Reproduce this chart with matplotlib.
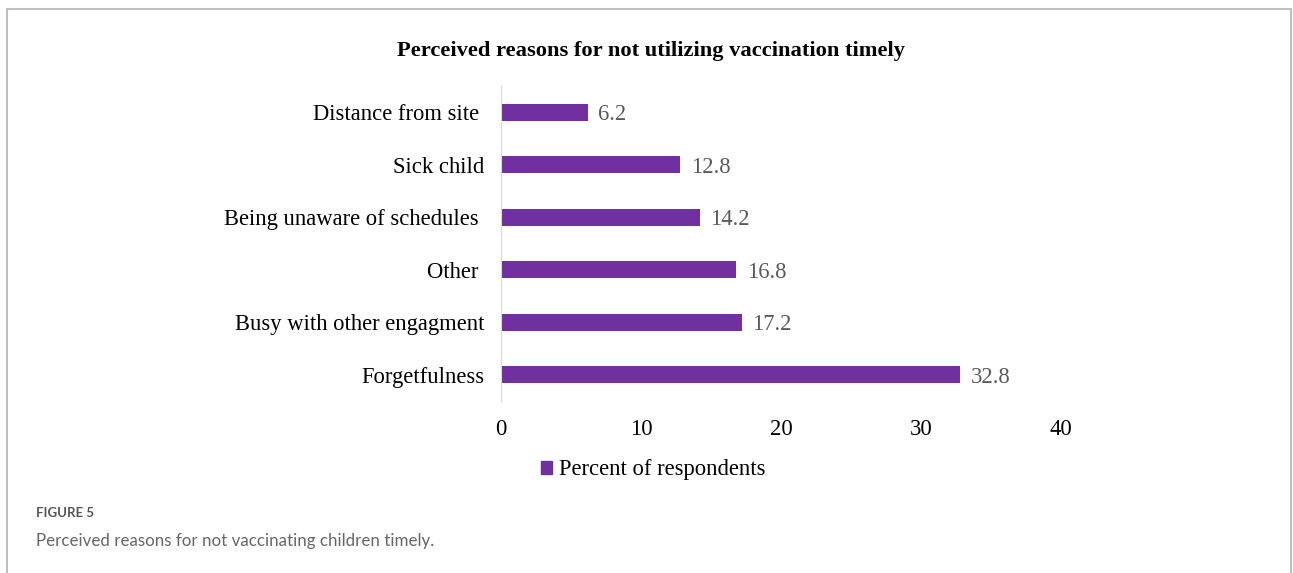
import matplotlib.pyplot as plt
import matplotlib.patches as mpatches

# data
reasons = ["Distance from site ", "Sick child", "Being unaware of schedules ",
           "Other ", "Busy with other engagment", "Forgetfulness"]
percent = [6.2, 12.8, 14.2, 16.8, 17.2, 32.8]
xticks = [0, 10, 20, 30, 40]

bar_col = "#7030A0"
serif = ["Liberation Serif", "DejaVu Serif"]

W, H = 1293, 573
fig = plt.figure(figsize=(W / 100, H / 100), dpi=100)
ax = fig.add_axes([501 / W, 1 - 401 / H, 560 / W, 315 / H])

ypos = list(range(len(reasons)))
ax.barh(ypos, percent, height=0.32, color=bar_col)
ax.set_ylim(len(reasons) - 0.5, -0.5)
ax.set_xlim(0, 40)
ax.set_yticks(ypos)
ax.set_yticklabels(reasons, family=serif, fontsize=16.3)
ax.set_xticks(xticks)
ax.set_xticklabels([str(t) for t in xticks], family=serif, fontsize=16.3)
ax.tick_params(axis="y", length=0, pad=12)
ax.tick_params(axis="x", length=0, pad=13)
for s in ["top", "right", "bottom"]:
    ax.spines[s].set_visible(False)
ax.spines["left"].set_color("#d9d9d9")

for y, v in zip(ypos, percent):
    ax.text(v + 0.75, y, str(v), va="center_baseline", ha="left", family=serif,
            fontsize=16.3, color="#595959")

fig.text(651 / W, 1 - 51 / H, "Perceived reasons for not utilizing vaccination timely",
         ha="center", va="center", family=serif, fontsize=16.2, fontweight="bold")

handle = mpatches.Patch(color=bar_col, label="Percent of respondents")
fig.legend(handles=[handle], loc="center", bbox_to_anchor=(653 / W, 1 - 470 / H),
           frameon=False, prop={"family": serif, "size": 16.3},
           handlelength=0.5, handleheight=0.5, handletextpad=0.3)

# outer frame and caption
frame = mpatches.Rectangle((7 / W, -0.1), 1284 / W, 1.1 - 9 / H, transform=fig.transFigure,
                           fill=False, edgecolor="#c0c0c0", linewidth=1.5)
fig.patches.append(frame)
fig.text(36 / W, 1 - 513 / H, "FIGURE 5", ha="left", va="center",
         family="Lato", fontsize=9.5, fontweight="bold", color="#555555")
fig.text(36 / W, 1 - 541 / H, "Perceived reasons for not vaccinating children timely.",
         ha="left", va="center", family="Lato", fontsize=12.2, color="#666666")

fig.savefig("out.png", dpi=100)
